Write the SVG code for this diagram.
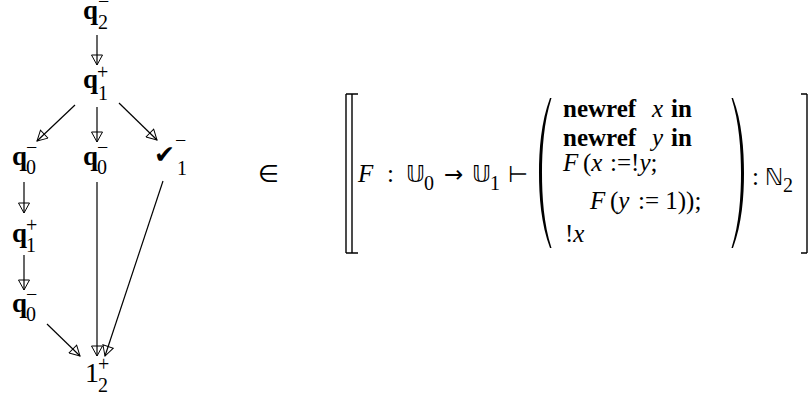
<svg xmlns="http://www.w3.org/2000/svg" width="809" height="398" viewBox="0 0 809 398">
<style>
.q{font-family:"Liberation Serif",serif;font-weight:bold;font-size:27px}
.s{font-family:"Liberation Serif",serif;font-size:20px}
.n{font-family:"Liberation Serif",serif;font-size:28px}
.m{font-family:"Liberation Serif",serif;font-size:25px}
.sym{font-family:"DejaVu Sans",sans-serif}
.b{font-weight:bold}
.i{font-style:italic}
.e{stroke:#000;stroke-width:1.2;fill:none;marker-end:url(#ah)}
</style>
<defs>
<marker id="ah" viewBox="0 0 12 12" refX="11" refY="6" markerWidth="12" markerHeight="12" markerUnits="userSpaceOnUse" orient="auto">
<path d="M1,0.5 L11,6 L1,11.5 Z" fill="none" stroke="#000" stroke-width="1"/>
</marker>
</defs>
<rect width="809" height="398" fill="#fff"/>
<g id="connectors">
<line class="e" x1="97" y1="35" x2="97" y2="65"/>
<line class="e" x1="75" y1="105" x2="37" y2="141"/>
<line class="e" x1="97" y1="107" x2="97" y2="142"/>
<line class="e" x1="119" y1="103" x2="157" y2="140"/>
<line class="e" x1="24" y1="182" x2="24" y2="213"/>
<line class="e" x1="24" y1="255" x2="24" y2="290"/>
<line class="e" x1="47" y1="324" x2="80" y2="356"/>
<line class="e" x1="97" y1="182" x2="97" y2="356"/>
<line class="e" x1="163" y1="181" x2="105" y2="356"/>
</g>
<g id="q2m"><text class="q" x="83" y="19">q</text><text class="s" x="98" y="8">−</text><text class="s" x="98" y="29">2</text></g>
<g id="q1p"><text class="q" x="83" y="88">q</text><text class="s" x="97" y="79">+</text><text class="s" x="98" y="100">1</text></g>
<g id="q0m_a"><text class="q" x="12" y="165">q</text><text class="s" x="26" y="154">−</text><text class="s" x="26" y="174">0</text></g>
<g id="q0m_b"><text class="q" x="83" y="165">q</text><text class="s" x="97" y="154">−</text><text class="s" x="97" y="174">0</text></g>
<g id="check"><text class="sym" x="154" y="163" font-size="25">✔</text><text class="s" x="175" y="147">−</text><text class="s" x="177" y="175">1</text></g>
<g id="q1p_b"><text class="q" x="12" y="242">q</text><text class="s" x="26" y="232">+</text><text class="s" x="26" y="252">1</text></g>
<g id="q0m_c"><text class="q" x="12" y="312">q</text><text class="s" x="26" y="301">−</text><text class="s" x="26" y="321">0</text></g>
<g id="one2p"><text class="n" x="85" y="382">1</text><text class="s" x="98" y="371">+</text><text class="s" x="98" y="392">2</text></g>
<g id="elem"><text class="sym" x="258" y="182" font-size="24">∈</text></g>
<g id="formula">
<path d="M346,94 V253 M352,94 V253 M346,94 H358 M346,253 H358" stroke="#000" stroke-width="1.4" fill="none"/>
<path d="M807,94 V253 M801,94 H807 M801,253 H807" stroke="#000" stroke-width="1.4" fill="none"/>
<text class="m i" x="358" y="182">F</text>
<text class="m" x="387" y="182">:</text>
<text class="sym" x="406" y="182" font-size="23">𝕌</text>
<text class="s" x="424" y="190">0</text>
<text class="sym" x="444" y="182" font-size="23">→</text>
<text class="sym" x="472" y="182" font-size="23">𝕌</text>
<text class="s" x="490" y="190">1</text>
<text class="sym" x="508" y="182" font-size="23">⊢</text>
<path d="M550,98 C541,122 539,150 539,173 C539,196 541,224 550,248 L551.5,248 C543.8,224 542,196 542,173 C542,150 543.8,122 551.5,98 Z" fill="#000"/>
<path d="M733,98 C742,122 744,150 744,173 C744,196 742,224 733,248 L731.5,248 C739.2,224 741,196 741,173 C741,150 739.2,122 731.5,98 Z" fill="#000"/>
<text class="m" x="563" y="117"><tspan class="b">newref</tspan><tspan class="i" x="652">x</tspan><tspan class="b" x="671">in</tspan></text>
<text class="m" x="563" y="146"><tspan class="b">newref</tspan><tspan class="i" x="652">y</tspan><tspan class="b" x="671">in</tspan></text>
<text class="m" x="563" y="171"><tspan class="i">F</tspan><tspan x="583">(</tspan><tspan class="i">x</tspan><tspan x="610">:=!</tspan><tspan class="i">y</tspan><tspan>;</tspan></text>
<text class="m" x="590" y="209"><tspan class="i">F</tspan><tspan x="610">(</tspan><tspan class="i">y</tspan><tspan x="638">:= 1));</tspan></text>
<text class="m" x="565" y="242">!<tspan class="i">x</tspan></text>
<text class="m" x="752" y="185">:</text>
<text class="sym" x="765" y="185" font-size="23">ℕ</text>
<text class="s" x="783" y="192">2</text>
</g>
</svg>
